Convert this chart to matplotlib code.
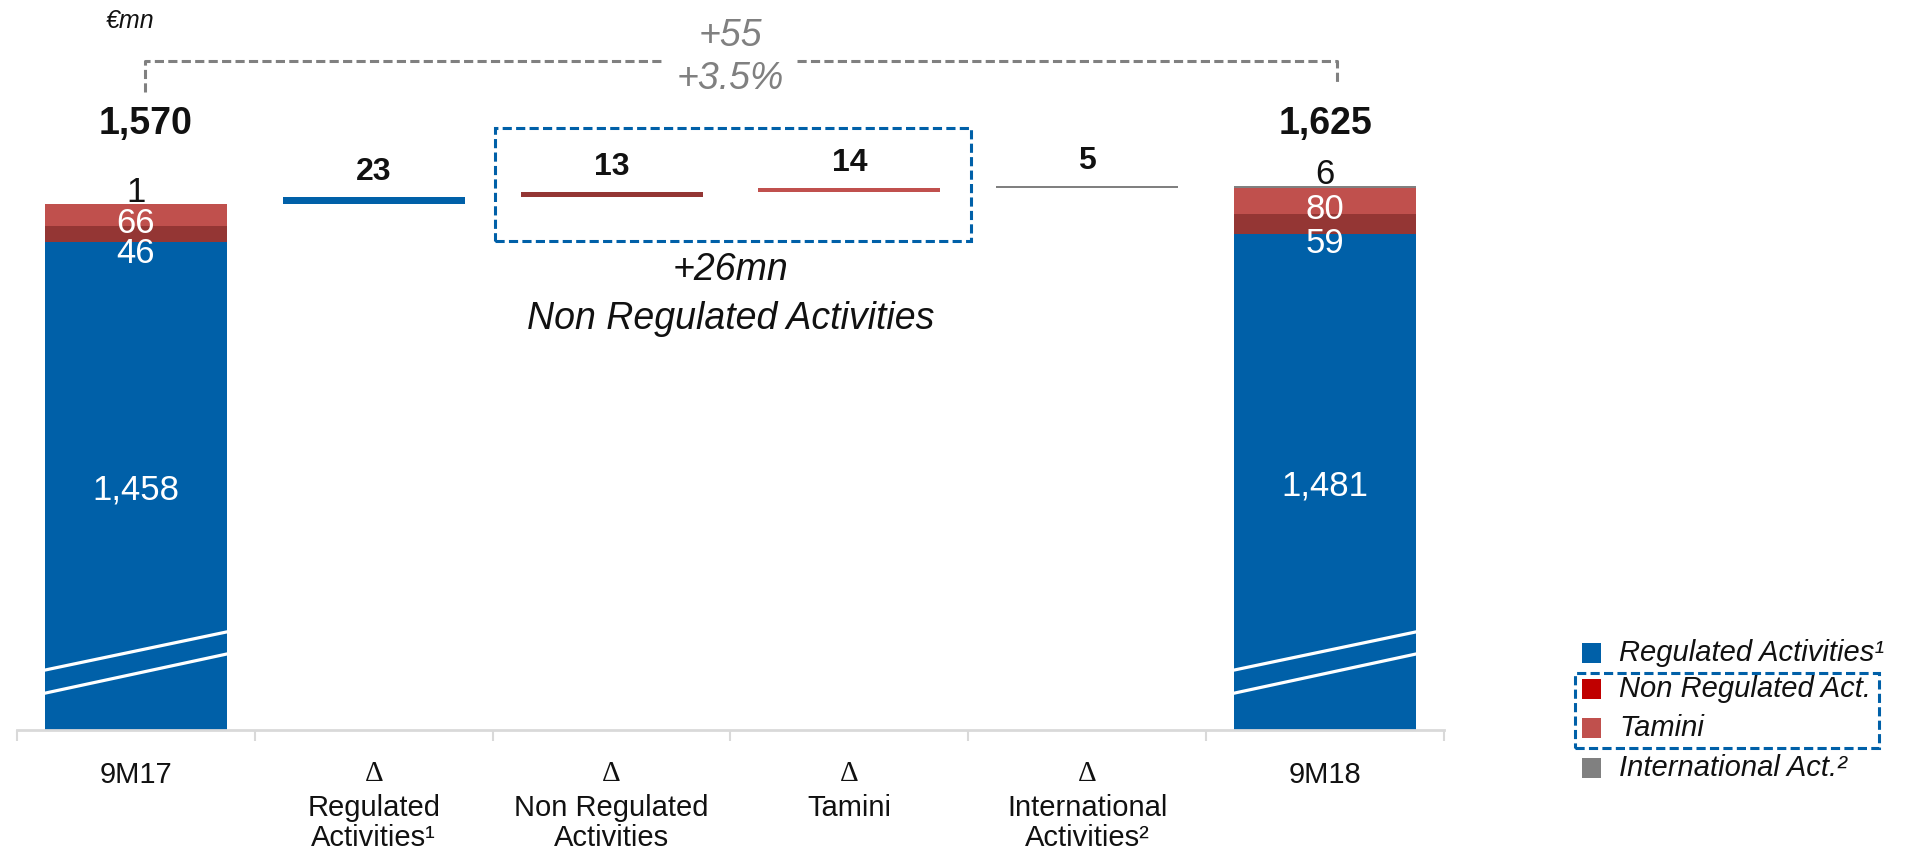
import matplotlib
matplotlib.use("Agg")
import matplotlib.pyplot as plt
from matplotlib.patches import Rectangle
from matplotlib.lines import Line2D

plt.rcParams['font.family'] = ['Liberation Sans', 'DejaVu Sans']

# ---- data -------------------------------------------------------------
categories = ["9M17", "Regulated\nActivities\u00b9", "Non Regulated\nActivities",
              "Tamini", "International\nActivities\u00b2", "9M18"]
is_delta = [False, True, True, True, True, False]

segment_names = ["Regulated Activities\u00b9", "Non Regulated Act.", "Tamini",
                 "International Act.\u00b2"]
start_segments = [1458, 46, 66, 1]
end_segments = [1481, 59, 80, 6]
start_total = 1570
end_total = 1625
deltas = [23, 13, 14, 5]
total_change = 55
total_change_pct = 3.5
non_reg_change = 26

# ---- style ------------------------------------------------------------
BLUE = "#0060A8"
bar_colors = [BLUE, "#943634", "#C0504D", "#808080"]
legend_colors = [BLUE, "#C00000", "#C0504D", "#808080"]
GREY_TXT = "#808080"
AXIS_GREY = "#D9D9D9"
TXT = "#111111"

W, H = 1911, 856
fig = plt.figure(figsize=(W / 100, H / 100), dpi=100)


def fx(px):
    return px / W


def fy(py):
    return 1 - py / H


ax = fig.add_axes([fx(17), 126 / H, 1427 / W, 730 / H])
ax.set_xlim(-0.5, 5.5)
ax.set_ylim(0, 2180)
bw = 0.765

# stacked totals
for xi, segs in ((0, start_segments), (5, end_segments)):
    bottom = 0
    for k, v in enumerate(segs):
        ax.bar(xi, v, bottom=bottom, width=bw, color=bar_colors[k], linewidth=0)
        bottom += v

# floating deltas
running = start_total
for k, d in enumerate(deltas):
    ax.bar(k + 1, d, bottom=running, width=bw, color=bar_colors[k], linewidth=0)
    running += d
    ax.annotate(f"{d}", (k + 1, running), xytext=(0, 7), textcoords="offset points",
                ha="center", va="bottom", fontsize=23, fontweight="bold", color=TXT)

# segment labels
for xi, segs in ((0, start_segments), (5, end_segments)):
    reg, nonreg, tam, intl = segs
    ax.annotate(f"{reg:,}", (xi, reg / 2), xytext=(0, -3), textcoords="offset points",
                ha="center", va="center", fontsize=25, color="white")
    ax.annotate(f"{nonreg}", (xi, reg + nonreg / 2), xytext=(0, -14),
                textcoords="offset points", ha="center", va="center",
                fontsize=25, color="white")
    ax.annotate(f"{tam}", (xi, reg + nonreg + tam / 2), xytext=(0, -6),
                textcoords="offset points", ha="center", va="center",
                fontsize=25, color="white")
    ax.annotate(f"{intl}", (xi, sum(segs)), xytext=(0, -4),
                textcoords="offset points", ha="center", va="bottom",
                fontsize=25, color=TXT)

    # axis-break marks
    for y0, y1 in ((179, 293), (110, 227)):
        ax.add_line(Line2D([xi - bw / 2, xi + bw / 2], [y0, y1], color="white", lw=2.3))

# totals
for xi, tot in ((0.04, start_total), (5, end_total)):
    ax.text(xi, 1809, f"{tot:,}", ha="center", va="center", fontsize=27,
            fontweight="bold", color=TXT)

# overall change bracket
dash = (0, (3, 1.4))
ax.add_line(Line2D([0.04, 0.04, 2.21], [1904, 1997, 1997], color=GREY_TXT, lw=2.2, ls=dash))
ax.add_line(Line2D([2.78, 5.05, 5.05], [1997, 1997, 1925], color=GREY_TXT, lw=2.2, ls=dash))
ax.text(2.5, 2072, f"+{total_change}", ha="center", va="center", fontsize=27,
        style="italic", color=GREY_TXT)
ax.text(2.5, 1943, f"+{total_change_pct}%", ha="center", va="center", fontsize=27,
        style="italic", color=GREY_TXT)

# non regulated group box
ax.add_patch(Rectangle((1.51, 1460), 2.0, 337, fill=False, edgecolor=BLUE, lw=2.2, ls=dash))
ax.text(2.5, 1373, f"+{non_reg_change}mn", ha="center", va="center", fontsize=27,
        style="italic", color=TXT)
ax.text(2.5, 1227, "Non Regulated Activities", ha="center", va="center", fontsize=27,
        style="italic", color=TXT)

# axis styling
for s in ("left", "right", "top"):
    ax.spines[s].set_visible(False)
ax.spines["bottom"].set_color(AXIS_GREY)
ax.spines["bottom"].set_linewidth(2)
ax.set_yticks([])
ax.set_xticks(range(len(categories)))
ax.set_xticklabels([])
ax.tick_params(axis="x", which="major", length=0)
ax.set_xticks([i - 0.5 for i in range(len(categories) + 1)], minor=True)
ax.tick_params(axis="x", which="minor", length=8, width=1.5, color=AXIS_GREY, direction="out")

# category labels
for i, (cat, dl) in enumerate(zip(categories, is_delta)):
    if dl:
        ax.annotate("\u0394", (i, 0), xycoords=("data", "axes fraction"),
                    xytext=(0, -22), textcoords="offset points", ha="center", va="top",
                    fontsize=21, family=["Liberation Serif", "DejaVu Serif"], color=TXT)
        ax.annotate(cat, (i, 0), xycoords=("data", "axes fraction"),
                    xytext=(0, -46), textcoords="offset points", ha="center", va="top",
                    fontsize=21, color=TXT, linespacing=1.1)
    else:
        ax.annotate(cat, (i, 0), xycoords=("data", "axes fraction"),
                    xytext=(0, -22), textcoords="offset points", ha="center", va="top",
                    fontsize=21, color=TXT)

# unit
fig.text(fx(130), fy(21), "\u20acmn", ha="center", va="center", fontsize=18,
         style="italic", color=TXT)

# legend
rows_y = [653, 689, 728, 768]
for name, col, ry in zip(segment_names, legend_colors, rows_y):
    fig.patches.append(Rectangle((fx(1582), fy(ry + 10)), 19 / W, 20 / H,
                                 transform=fig.transFigure, color=col, linewidth=0))
    fig.text(fx(1619), fy(ry), name, ha="left", va="center", fontsize=21,
             style="italic", color=TXT)
fig.patches.append(Rectangle((fx(1575), fy(748)), (1879 - 1575) / W, (748 - 673) / H,
                             transform=fig.transFigure, fill=False, edgecolor=BLUE,
                             lw=2.2, ls=dash))

fig.savefig("out.png", dpi=100)
